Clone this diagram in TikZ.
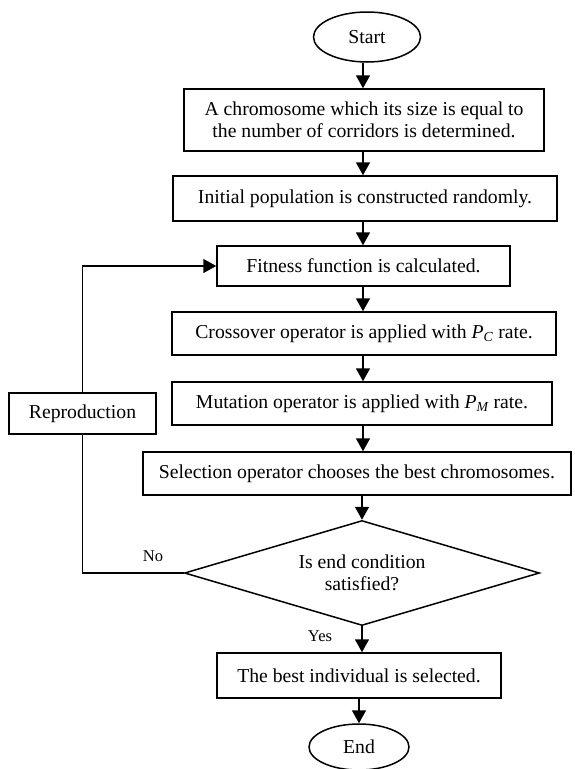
\documentclass[tikz,border=0pt]{standalone}
\usepackage{fontspec}
\setmainfont{Liberation Serif}
\usetikzlibrary{shapes.geometric,arrows.meta,calc}
\begin{document}
\begin{tikzpicture}[x=1pt,y=-1pt,
  every node/.style={font=\fontsize{19.7}{22.4}\selectfont, line width=1.5pt},
  procbox/.style={draw, rectangle, inner sep=0pt, align=center},
  term/.style={draw, ellipse, inner sep=0pt},
  decision/.style={draw, diamond, aspect=3.38, inner sep=0pt, align=center},
  smalllbl/.style={font=\fontsize{16.5}{19}\selectfont},
  flow/.style={line width=1.5pt, -{Triangle[length=13pt,width=14pt]}},
  plain/.style={line width=1.5pt}]
\useasboundingbox (0,0) rectangle (574,769);
\coordinate (col) at (363,0);
\node[term, minimum width=107, minimum height=50] (start) at (367,37) {Start};
\node[procbox, minimum width=360, minimum height=62] (b1) at (364,120)
  {A chromosome which its size is equal to\\the number of corridors is determined.};
\node[procbox, minimum width=384, minimum height=45] (b2) at (365,198.5)
  {Initial population is constructed randomly.};
\node[procbox, minimum width=293, minimum height=40] (fit) at (363.5,266)
  {Fitness function is calculated.};
\node[procbox, minimum width=384, minimum height=43] (cross) at (364,333.5)
  {Crossover operator is applied with {\itshape P}\textsubscript{\itshape C} rate.};
\node[procbox, minimum width=380, minimum height=43] (mut) at (362,403.5)
  {Mutation operator is applied with {\itshape P}\textsubscript{\itshape M} rate.};
\node[procbox, minimum width=147, minimum height=41] (rep) at (82.5,413.5)
  {Reproduction};
\node[procbox, minimum width=428, minimum height=43] (sel) at (357,473.5)
  {Selection operator chooses the best chromosomes.};
\node[decision, minimum width=355, minimum height=105] (dec) at (362,573)
  {Is end condition\\satisfied?};
\node[procbox, minimum width=284, minimum height=45] (best) at (359,675.5)
  {The best individual is selected.};
\node[term, minimum width=100, minimum height=46] (end) at (359,747) {End};
\node[smalllbl] (no) at (153,556) {No};
\node[smalllbl] (yes) at (320,636) {Yes};

\draw[flow] (start.south -| col) -- (b1.north -| col);
\draw[flow] (b1.south -| col) -- (b2.north -| col);
\draw[flow] (b2.south -| col) -- (fit.north -| col);
\draw[flow] (fit.south -| col) -- (cross.north -| col);
\draw[flow] (cross.south -| col) -- (mut.north -| col);
\draw[flow] (mut.south -| col) -- (sel.north -| col);
\draw[flow] (sel.south -| dec.north) -- (dec.north);
\draw[flow] (dec.south) -- (best.north -| dec.south);
\draw[flow] (best.south -| end.north) -- (end.north);
\draw[plain] (dec.west) -| (rep.south);
\draw[flow] (rep.north) |- (fit.west);
\end{tikzpicture}
\end{document}
